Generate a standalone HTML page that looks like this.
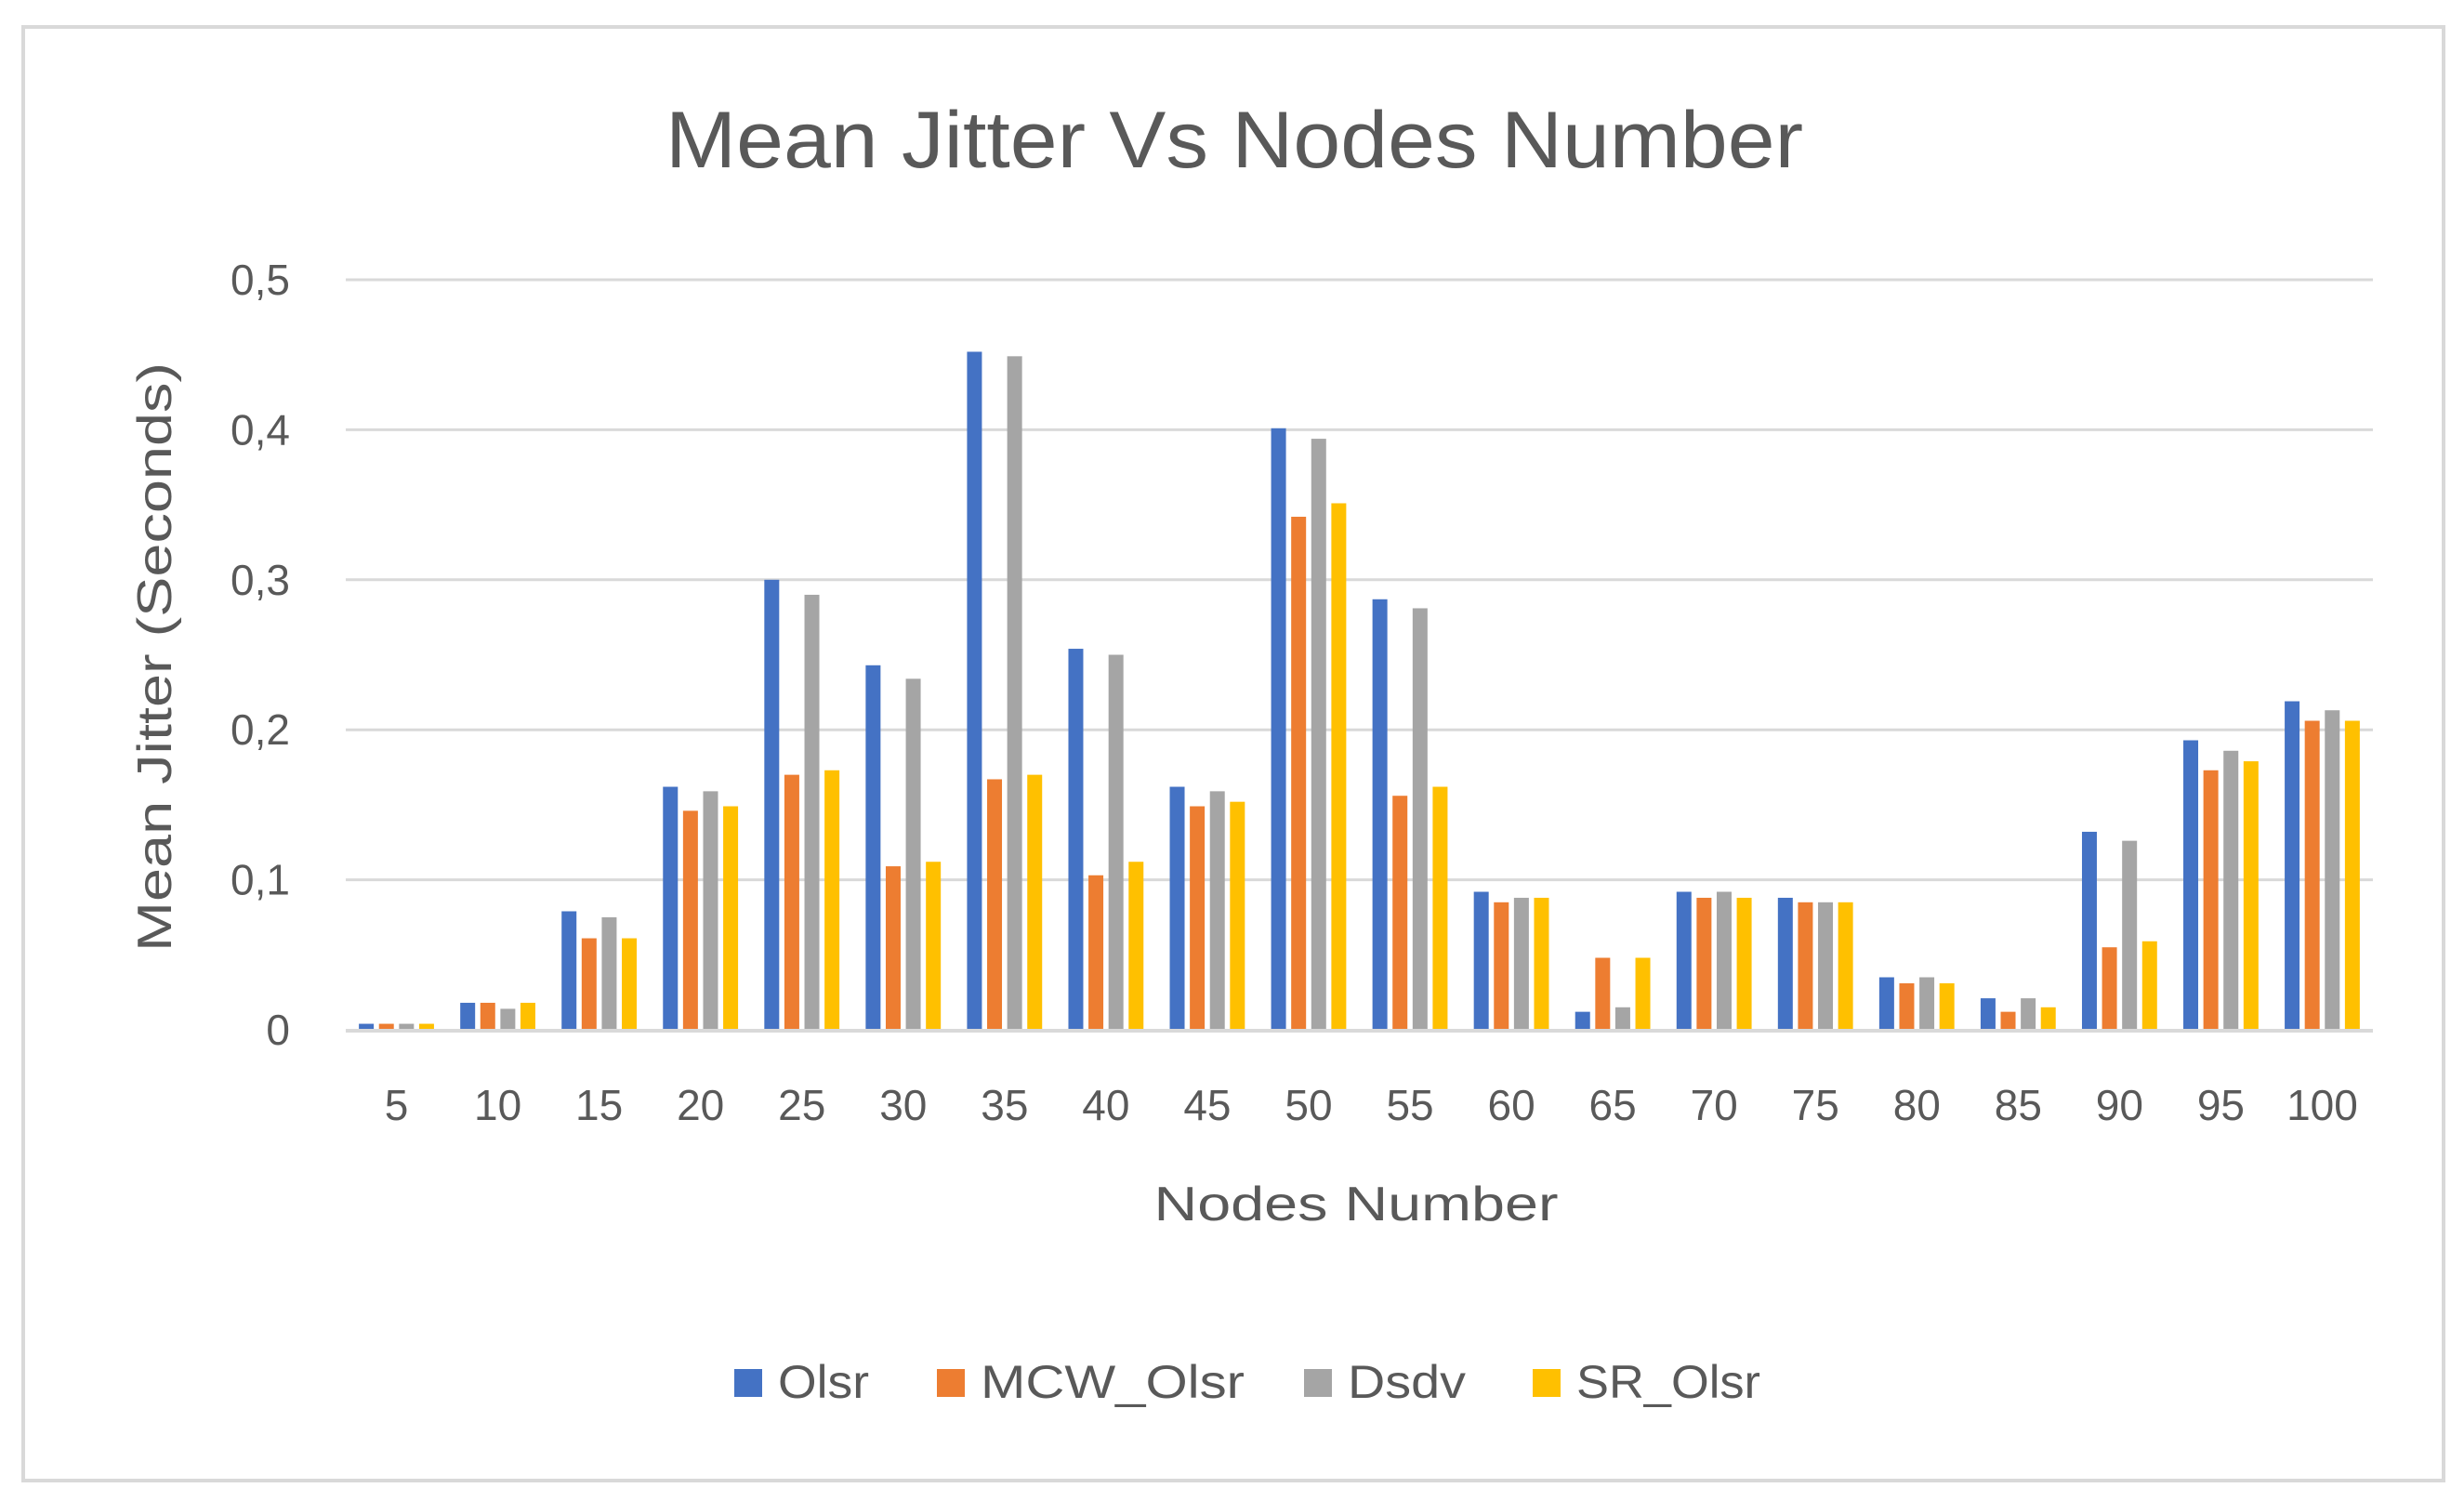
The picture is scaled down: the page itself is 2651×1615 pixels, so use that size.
<!DOCTYPE html>
<html><head><meta charset="utf-8">
<style>
html,body{margin:0;padding:0;background:#fff;}
svg{display:block;font-family:"Liberation Sans",sans-serif;}
</style></head>
<body>
<svg id="chart" width="2651" height="1615" viewBox="0 0 2651 1615" xmlns="http://www.w3.org/2000/svg">
<rect x="0" y="0" width="2651" height="1615" fill="#fff"/>
<rect x="25" y="29" width="2604" height="1564" fill="none" stroke="#d9d9d9" stroke-width="4"/>
<text x="1328" y="180" text-anchor="middle" font-size="86" fill="#595959" textLength="1224" lengthAdjust="spacingAndGlyphs">Mean Jitter Vs Nodes Number</text>
<g id="grid"></g>
<g id="bars"></g>
<g id="xlabels"></g>
<text x="1459" y="1313" text-anchor="middle" font-size="52" fill="#595959" textLength="435" lengthAdjust="spacingAndGlyphs">Nodes Number</text>
<text transform="translate(184,707) rotate(-90)" text-anchor="middle" font-size="52" fill="#595959" textLength="634" lengthAdjust="spacingAndGlyphs">Mean Jitter (Seconds)</text>
<g id="legend"></g>
</svg>
<script>
const categories = ["5","10","15","20","25","30","35","40","45","50","55","60","65","70","75","80","85","90","95","100"];
const olsr =    [0.004,0.018,0.079,0.162,0.300,0.243,0.452,0.254,0.162,0.401,0.287,0.092,0.012,0.092,0.088,0.035,0.021,0.132,0.193,0.219];
const mcwOlsr = [0.004,0.018,0.061,0.146,0.170,0.109,0.167,0.103,0.149,0.342,0.156,0.085,0.048,0.088,0.085,0.031,0.012,0.055,0.173,0.206];
const dsdv =    [0.004,0.014,0.075,0.159,0.290,0.234,0.449,0.250,0.159,0.394,0.281,0.088,0.015,0.092,0.085,0.035,0.021,0.126,0.186,0.213];
const srOlsr =  [0.004,0.018,0.061,0.149,0.173,0.112,0.170,0.112,0.152,0.351,0.162,0.088,0.048,0.088,0.085,0.031,0.015,0.059,0.179,0.206];
const seriesNames = ["Olsr","MCW_Olsr","Dsdv","SR_Olsr"];
const yTicks = [0,0.1,0.2,0.3,0.4,0.5];
const yTickLabels = ["0","0,1","0,2","0,3","0,4","0,5"];

const NS="http://www.w3.org/2000/svg";
const colors=["#4472c4","#ed7d31","#a5a5a5","#ffc000"];
const series=[olsr,mcwOlsr,dsdv,srOlsr];
const left=372,right=2553,y0=1108,y5=301;
const yScale=v=>y0-(v/0.5)*(y0-y5);
const band=(right-left)/categories.length;
const xBand=i=>left+i*band;
const barW=16,stride=21.6;
function mk(tag,attrs,parent){const e=document.createElementNS(NS,tag);for(const k in attrs)e.setAttribute(k,attrs[k]);parent.appendChild(e);return e;}
const grid=document.getElementById('grid');
yTicks.forEach((t,i)=>{
  if(i>0){const l=mk('line',{x1:left,x2:right,y1:yScale(t),y2:yScale(t),stroke:'#d9d9d9','stroke-width':3},grid);
  
  }
  const tx=mk('text',{x:312,y:yScale(t)+16,'text-anchor':'end','font-size':46,fill:'#595959'},grid);
  tx.textContent=yTickLabels[i];
  
  
});
const bars=document.getElementById('bars');
categories.forEach((c,i)=>{
  const gx=xBand(i)+(band-(3*stride+barW))/2;
  series.forEach((s,j)=>{
    const y=yScale(s[i]);
    const r=mk('rect',{x:gx+j*stride,y:y,width:barW,height:y0-y,fill:colors[j]},bars);
    
    
  });
  const tx=mk('text',{x:xBand(i)+band/2,y:1205,'text-anchor':'middle','font-size':46,fill:'#595959'},document.getElementById('xlabels'));
  tx.textContent=c;
  
  
});
const axis=mk('line',{x1:left,x2:right,y1:y0+1,y2:y0+1,stroke:'#d9d9d9','stroke-width':4},bars);


const leg=document.getElementById('legend');
const legX=[790,1008,1403,1649];
const legW=[98,284,127,198];
seriesNames.forEach((n,j)=>{
  const r=mk('rect',{x:legX[j],y:1473,width:30,height:30,fill:colors[j]},leg);
  
  
  const t=mk('text',{x:legX[j]+47,y:1504,'font-size':50,fill:'#595959',textLength:legW[j],lengthAdjust:'spacingAndGlyphs'},leg);
  t.textContent=n;
  
  
});
</script>
</body></html>
